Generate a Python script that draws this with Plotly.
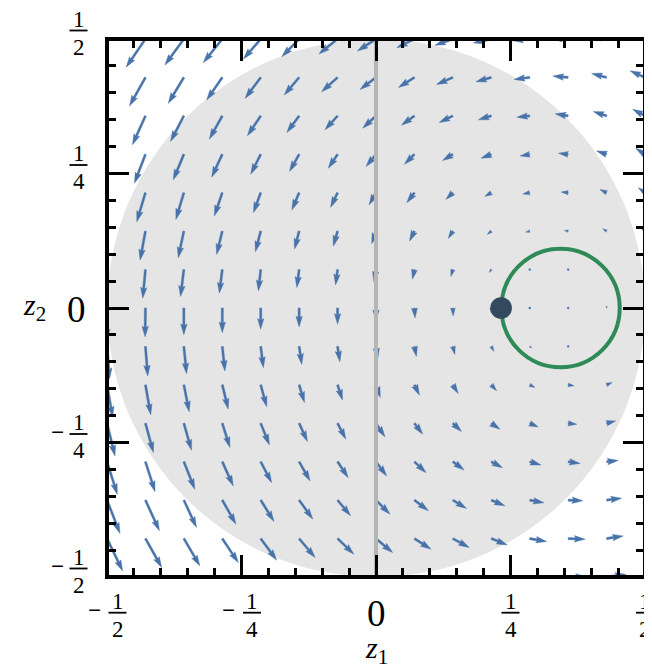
import math
import numpy as np
import plotly.graph_objects as go

# ---------------- data ----------------
X_RANGE = [-0.5, 0.5]
Y_RANGE = [-0.5, 0.5]
GRID_X = np.linspace(-0.5, 0.5, 15)          # arrow tails, left -> right
GRID_Y = np.linspace(0.5, -0.5, 15)          # arrow tails, top -> bottom

# arrow components (rows top->bottom, columns left->right)
U_ROWS = [
    [-62, -58, -57, -57, -52, -52, -56, -56, -53, -54, -54, -52, -50, -47, -48],
    [-52, -48, -47, -47, -47, -45, -48, -48, -48, -49, -46, -47, -46, -45, -45],
    [-43, -39, -40, -39, -40, -37, -38, -40, -39, -41, -39, -39, -39, -40, -37],
    [-35, -33, -32, -32, -30, -29, -28, -30, -30, -31, -31, -29, -29, -30, -28],
    [-27, -26, -24, -24, -22, -22, -21, -21, -23, -21, -20, -21, -21, -20, -20],
    [-18, -16, -17, -17, -16, -14, -13, -13, -15, -14, -12, -12, -12, -12, -12],
    [-9, -8, -10, -9, -7, -7, -6, -6, -6, -6, -6, -5, -4, -4, -4],
    [0, -1, 0, 0, 0, 0, 0, 0, 2, 1, 0, 1, 0, 0, 0],
    [8, 7, 8, 8, 8, 8, 7, 5, 6, 6, 8, 6, 5, 5, 6],
    [17, 16, 16, 18, 18, 16, 15, 13, 15, 16, 16, 16, 18, 17, 18],
    [24, 24, 23, 23, 26, 25, 25, 27, 25, 26, 26, 26, 26, 27, 27],
    [31, 29, 33, 33, 33, 33, 32, 32, 35, 34, 34, 34, 36, 35, 36],
    [39, 42, 38, 41, 40, 41, 39, 42, 42, 41, 41, 43, 44, 45, 45],
    [47, 49, 48, 48, 48, 48, 49, 50, 50, 49, 48, 51, 51, 50, 52],
    [55, 56, 57, 57, 57, 57, 57, 58, 58, 57, 57, 56, 55, 58, 58],
]
V_ROWS = [
    [-92, -85, -78, -71, -60, -53, -45, -36, -26, -19, -12, -5, 2, 9, 14],
    [-90, -86, -78, -68, -63, -53, -43, -36, -30, -21, -13, -6, 4, 12, 20],
    [-92, -87, -77, -70, -60, -50, -42, -37, -28, -20, -12, -4, 6, 13, 20],
    [-93, -87, -77, -69, -60, -52, -42, -37, -30, -19, -12, -5, 3, 10, 18],
    [-94, -87, -80, -70, -60, -52, -44, -37, -30, -20, -11, -4, 2, 10, 15],
    [-95, -87, -80, -70, -62, -54, -45, -38, -30, -22, -10, -3, 2, 7, 10],
    [-95, -86, -81, -71, -64, -54, -46, -38, -29, -21, -9, -1, 2, 4, 8],
    [-96, -87, -80, -74, -64, -57, -49, -38, -30, -24, -15, -4, -1, 7, 13],
    [-97, -89, -82, -74, -64, -54, -46, -38, -30, -24, -15, -5, -2, 3, 8],
    [-97, -90, -81, -73, -66, -53, -46, -38, -31, -26, -18, -8, -3, 7, 15],
    [-98, -88, -81, -73, -65, -55, -48, -41, -33, -25, -18, -11, -3, 7, 15],
    [-98, -90, -83, -73, -63, -58, -48, -43, -33, -25, -18, -10, -5, 4, 12],
    [-100, -92, -82, -72, -64, -57, -47, -42, -32, -25, -17, -8, -2, 6, 12],
    [-97, -87, -82, -72, -65, -57, -47, -42, -32, -27, -19, -9, -2, 8, 15],
    [-97, -88, -80, -72, -65, -57, -48, -42, -33, -27, -18, -10, 1, 8, 15],
]
ARROW_UNIT = 1.0 / 1614.0     # data units per arrow component unit

DISK_RADIUS = 0.5
CIRCLE_CENTER = [0.343, 0.0]
CIRCLE_RADIUS = 0.110
POINT = [0.2325, 0.0]

TICK_VALS = [-0.5, -0.25, 0.0, 0.25, 0.5]
TICK_NUM = ["1", "1", "0", "1", "1"]
TICK_DEN = ["2", "4", "", "4", "2"]
TICK_NEG = [True, True, False, False, False]

# ---------------- styling ----------------
PAGE_OFFSET = 8                               # default body margin of the page
W_FIG, H_FIG = 652 - PAGE_OFFSET, 670 - PAGE_OFFSET
ML, MT = 107 - PAGE_OFFSET, 39 - PAGE_OFFSET
PLOT_PX = 538
MR = W_FIG - ML - PLOT_PX
MB = H_FIG - MT - PLOT_PX
PX_PER_UNIT = PLOT_PX / (X_RANGE[1] - X_RANGE[0])

ARROW_COLOR = "#4873aa"
DISK_COLOR = "#e5e5e5"
LINE_GRAY = "#b5b5b5"
GREEN = "#2e8b57"
DOT_COLOR = "#34495e"
FONT = "Liberation Serif"

SHAFT_W = 2.15
HEAD_W, HEAD_L, HEAD_AL = 3.0, 5.0, 4.5
MINSH = HEAD_L


def arrow_polygon(x0, y0, u, v):
    dxp = u * ARROW_UNIT * PX_PER_UNIT
    dyp = v * ARROW_UNIT * PX_PER_UNIT
    L = math.hypot(dxp, dyp) / SHAFT_W
    if L < 1.0:
        th = np.arange(7) * np.pi / 3.0
        px = np.cos(th) * 0.5
        py = np.sin(th) * 0.5
    else:
        Y = np.array([0.5, 0.5, HEAD_W / 2, 0.0, -HEAD_W / 2, -0.5, -0.5, 0.5])
        if L < MINSH:
            s = L / MINSH
            X = s * np.array([0, MINSH - HEAD_AL, MINSH - HEAD_L, MINSH,
                              MINSH - HEAD_L, MINSH - HEAD_AL, 0, 0])
            Y = s * Y
        else:
            X = np.array([0, L - HEAD_AL, L - HEAD_L, L, L - HEAD_L, L - HEAD_AL, 0, 0])
        a = math.atan2(dyp, dxp)
        px = X * math.cos(a) - Y * math.sin(a)
        py = X * math.sin(a) + Y * math.cos(a)
    return (x0 + px * SHAFT_W / PX_PER_UNIT).tolist(), (y0 + py * SHAFT_W / PX_PER_UNIT).tolist()


ax_list, ay_list = [], []
for j, yv in enumerate(GRID_Y):
    for i, xv in enumerate(GRID_X):
        xs, ys = arrow_polygon(xv, yv, U_ROWS[j][i], V_ROWS[j][i])
        ax_list += xs + [None]
        ay_list += ys + [None]

fig = go.Figure()
fig.add_trace(go.Scatter(x=ax_list, y=ay_list, mode="lines", fill="toself",
                         fillcolor=ARROW_COLOR, line=dict(width=0.4, color=ARROW_COLOR),
                         hoverinfo="skip", showlegend=False))
fig.add_trace(go.Scatter(x=[0, 0], y=Y_RANGE, mode="lines",
                         line=dict(color=LINE_GRAY, width=4), hoverinfo="skip", showlegend=False))

shapes = [
    dict(type="circle", xref="x", yref="y", x0=-DISK_RADIUS, x1=DISK_RADIUS,
         y0=-DISK_RADIUS, y1=DISK_RADIUS, fillcolor=DISK_COLOR, line=dict(width=0), layer="below"),
    dict(type="circle", xref="x", yref="y",
         x0=CIRCLE_CENTER[0] - CIRCLE_RADIUS, x1=CIRCLE_CENTER[0] + CIRCLE_RADIUS,
         y0=CIRCLE_CENTER[1] - CIRCLE_RADIUS, y1=CIRCLE_CENTER[1] + CIRCLE_RADIUS,
         line=dict(color=GREEN, width=4), layer="above"),
]
DOT_R = 10.8 / PX_PER_UNIT
shapes.append(dict(type="circle", xref="x", yref="y", x0=POINT[0] - DOT_R, x1=POINT[0] + DOT_R,
                   y0=POINT[1] - DOT_R, y1=POINT[1] + DOT_R, fillcolor=DOT_COLOR,
                   line=dict(width=0), layer="above"))
shapes.append(dict(type="rect", xref="paper", yref="paper", x0=0, x1=1, y0=0, y1=1,
                   line=dict(color="black", width=4), layer="above"))

annotations = []
FRAC_SIZE = 23
ZERO_SIZE = 37
TITLE_SIZE = 30
BAR_HALF = 9.0


def ann(text, x, y, xs, ys, size, weight="normal", **kw):
    d = dict(text=text, x=x, y=y, xref="paper", yref="paper", xshift=xs, yshift=ys,
             showarrow=False, font=dict(family=FONT, size=size, color="black", weight=weight),
             xanchor=kw.pop("xanchor", "center"), yanchor=kw.pop("yanchor", "middle"))
    d.update(kw)
    annotations.append(d)


# x tick labels
for t, num, den, neg in zip(TICK_VALS, TICK_NUM, TICK_DEN, TICK_NEG):
    xp = (t - X_RANGE[0]) / (X_RANGE[1] - X_RANGE[0])
    if den:
        off = 10.5 if neg else 0.0
        bar = -35.7
        ann(num, xp, 0, off, bar + 11.5, FRAC_SIZE)
        ann(den, xp, 0, off, bar - 16.5, FRAC_SIZE)
        shapes.append(dict(type="line", xref="paper", yref="paper",
                           x0=xp + (off - BAR_HALF) / PLOT_PX, x1=xp + (off + BAR_HALF) / PLOT_PX,
                           y0=bar / PLOT_PX, y1=bar / PLOT_PX, line=dict(color="black", width=1.8)))
        if neg:
            ann("\u2212", xp, 0, -13, bar + 2, FRAC_SIZE, weight="bold")
    else:
        ann(num, xp, 0, 0, -36, ZERO_SIZE)

# y tick labels
for t, num, den, neg in zip(TICK_VALS, TICK_NUM, TICK_DEN, TICK_NEG):
    yp = (t - Y_RANGE[0]) / (Y_RANGE[1] - Y_RANGE[0])
    if den:
        xc = -28.5
        bar = 8.5
        ann(num, 0, yp, xc, bar + 11.5, FRAC_SIZE)
        ann(den, 0, yp, xc, bar - 16.5, FRAC_SIZE)
        shapes.append(dict(type="line", xref="paper", yref="paper",
                           x0=(xc - BAR_HALF) / PLOT_PX, x1=(xc + BAR_HALF) / PLOT_PX,
                           y0=yp + bar / PLOT_PX, y1=yp + bar / PLOT_PX,
                           line=dict(color="black", width=1.8)))
        if neg:
            ann("\u2212", 0, yp, -50, bar + 2, FRAC_SIZE, weight="bold")
    else:
        ann(num, 0, yp, -30.5, -1, ZERO_SIZE)

# axis titles
ann("<i>z</i><sub>1</sub>", 0.5, 0, 0, -73, TITLE_SIZE)
ann("<i>z</i><sub>2</sub>", 0, 0.5, -59, 1, TITLE_SIZE, xanchor="right")

axis_common = dict(showgrid=False, zeroline=False, showline=False, showticklabels=False,
                   ticks="inside", tickvals=TICK_VALS, ticklen=22, tickwidth=3,
                   tickcolor="black", mirror="ticks",
                   minor=dict(ticks="inside", dtick=0.05, tick0=0, ticklen=9, tickwidth=3,
                              tickcolor="black", showgrid=False))

fig.update_layout(
    width=W_FIG, height=H_FIG,
    margin=dict(l=ML, r=MR, t=MT, b=MB, pad=0),
    paper_bgcolor="white", plot_bgcolor="white",
    xaxis=dict(range=X_RANGE, **axis_common),
    yaxis=dict(range=Y_RANGE, **axis_common),
    shapes=shapes, annotations=annotations, showlegend=False,
)

fig.write_html("out.html")
